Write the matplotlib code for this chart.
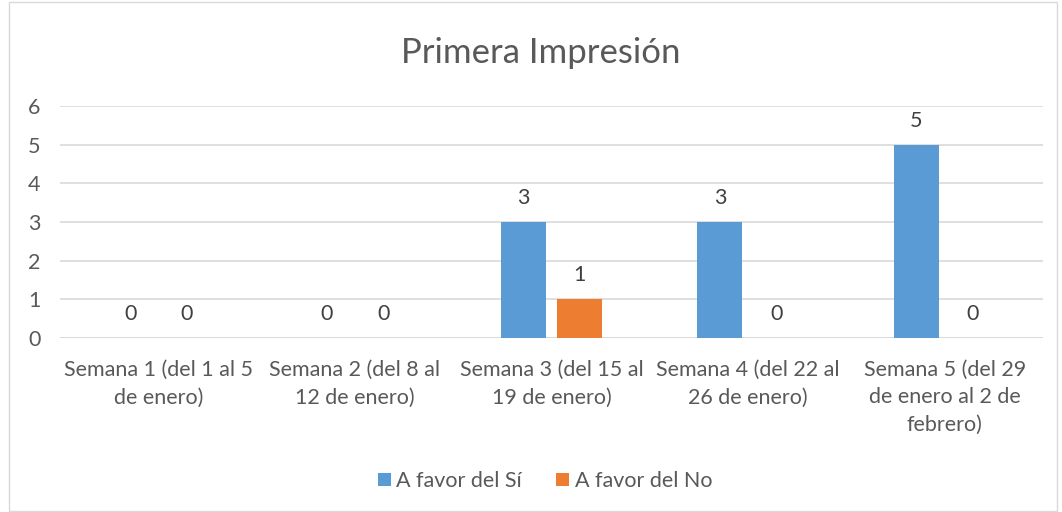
import numpy as np
import matplotlib.pyplot as plt
from matplotlib.patches import Rectangle

categorias = ["Semana 1 (del 1 al 5\nde enero)",
              "Semana 2 (del 8 al\n12 de enero)",
              "Semana 3 (del 15 al\n19 de enero)",
              "Semana 4 (del 22 al\n26 de enero)",
              "Semana 5 (del 29\nde enero al 2 de\nfebrero)"]
favor_si = [0, 0, 3, 3, 5]
favor_no = [0, 0, 1, 0, 0]

azul = "#5B9BD5"
naranja = "#ED7D31"
gris = "#595959"

plt.rcParams['font.family'] = ['Lato', 'DejaVu Sans']

W, H = 1062, 512
fig = plt.figure(figsize=(W / 100, H / 100), dpi=100)
fig.patches.append(Rectangle((9 / W, 1 / H), 1048 / W, 509 / H, transform=fig.transFigure,
                             fill=False, edgecolor="#D9D9D9", linewidth=1))

ax = fig.add_axes([60 / W, 1 - 338 / H, 983 / W, 232 / H])
x = np.arange(len(categorias))
ancho = 0.23
sep = 0.287
b1 = ax.bar(x - sep / 2, favor_si, ancho, color=azul, label="A favor del Sí", zorder=3)
b2 = ax.bar(x + sep / 2, favor_no, ancho, color=naranja, label="A favor del No", zorder=3)

for barras in (b1, b2):
    for b in barras:
        ax.annotate(str(int(b.get_height())), (b.get_x() + b.get_width() / 2, b.get_height()),
                    xytext=(0, 10), textcoords="offset points", ha="center", va="bottom",
                    fontsize=15.5, color="#404040")

ax.set_xlim(-0.5, len(categorias) - 0.5)
ax.set_ylim(0, 6)
ax.set_yticks(range(7))
ax.yaxis.grid(True, color="#D9D9D9", linewidth=1.2, zorder=0)
for s in ax.spines.values():
    s.set_visible(False)
ax.axhline(0, color="#D9D9D9", linewidth=1.2, zorder=1)
ax.tick_params(length=0, labelsize=15.5, labelcolor=gris)
ax.tick_params(axis="y", pad=14)
ax.set_xticks(x)
ax.set_xticklabels(categorias, linespacing=1.45)
ax.tick_params(axis="x", pad=16)

fig.text(541 / W, 1 - 53 / H, "Primera Impresión", ha="center", va="center", fontsize=25, color=gris)

fig.legend(handles=[b1, b2], loc="center", bbox_to_anchor=(545 / W, 1 - 481 / H), ncol=2,
           frameon=False, fontsize=15.5, labelcolor=gris, handlelength=0.6, handleheight=0.6,
           columnspacing=1.6, handletextpad=0.25)

fig.savefig("out.png", dpi=100)
